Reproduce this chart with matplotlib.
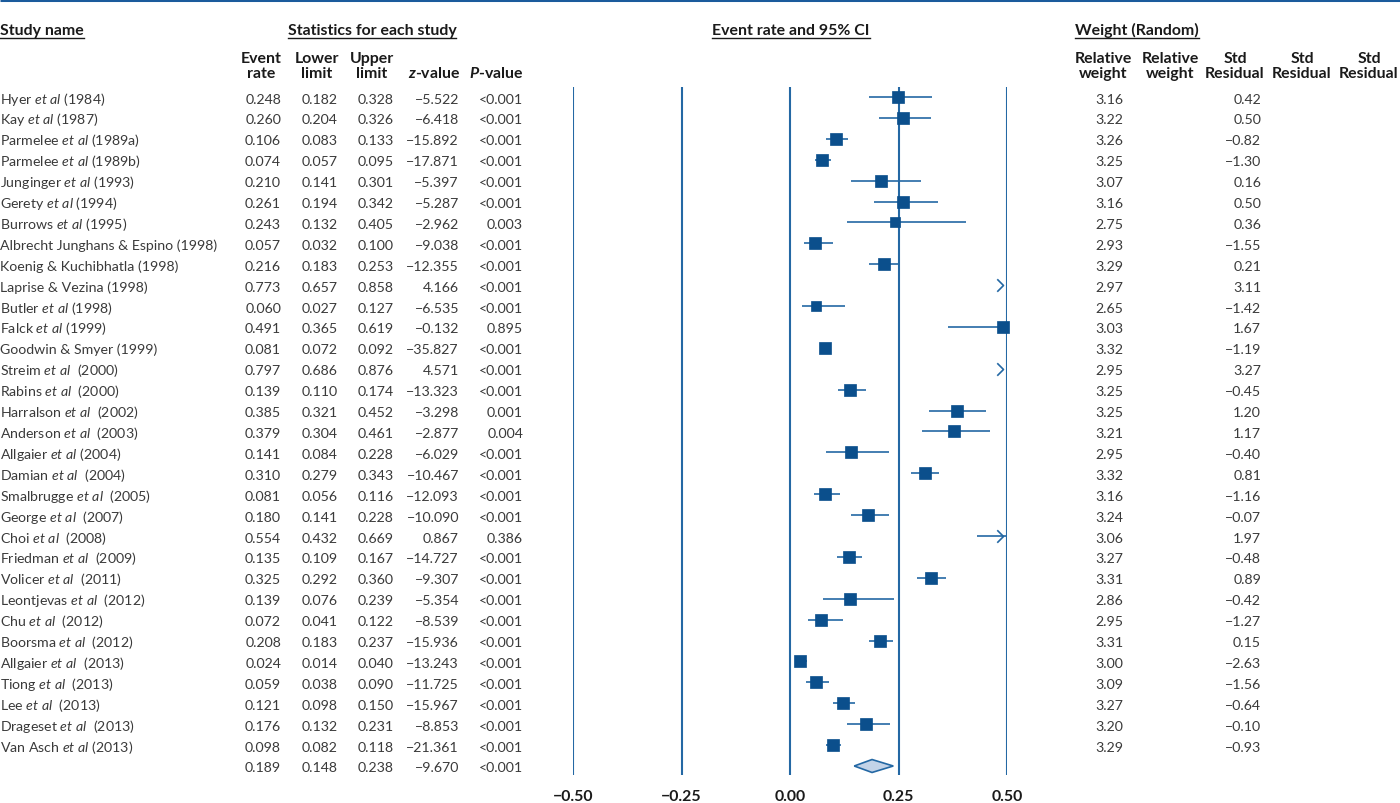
import numpy as np
import matplotlib
matplotlib.use("Agg")
import matplotlib.pyplot as plt
from matplotlib.path import Path

plt.rcParams['font.family'] = ['Lato', 'DejaVu Sans']
plt.rcParams['mathtext.fontset'] = 'custom'
plt.rcParams['mathtext.rm'] = 'Lato'
plt.rcParams['mathtext.it'] = 'Lato:italic'
plt.rcParams['mathtext.bf'] = 'Lato:bold'
try:
    plt.rcParams['mathtext.bfit'] = 'Lato:italic:bold'
except KeyError:
    pass

# data
studies = ["Hyer et al (1984)", "Kay et al (1987)", "Parmelee et al (1989a)", "Parmelee et al (1989b)",
           "Junginger et al (1993)", "Gerety et al (1994)", "Burrows et al (1995)",
           "Albrecht Junghans & Espino (1998)", "Koenig & Kuchibhatla (1998)", "Laprise & Vezina (1998)",
           "Butler et al (1998)", "Falck et al (1999)", "Goodwin & Smyer (1999)", "Streim et al  (2000)",
           "Rabins et al  (2000)", "Harralson et al  (2002)", "Anderson et al  (2003)", "Allgaier et al (2004)",
           "Damian et al  (2004)", "Smalbrugge et al  (2005)", "George et al  (2007)", "Choi et al  (2008)",
           "Friedman et al  (2009)", "Volicer et al  (2011)", "Leontjevas et al  (2012)", "Chu et al  (2012)",
           "Boorsma et al  (2012)", "Allgaier et al  (2013)", "Tiong et al  (2013)", "Lee et al  (2013)",
           "Drageset et al  (2013)", "Van Asch et al (2013)"]
event_rate = [0.248, 0.260, 0.106, 0.074, 0.210, 0.261, 0.243, 0.057, 0.216, 0.773, 0.060, 0.491, 0.081,
              0.797, 0.139, 0.385, 0.379, 0.141, 0.310, 0.081, 0.180, 0.554, 0.135, 0.325, 0.139, 0.072,
              0.208, 0.024, 0.059, 0.121, 0.176, 0.098]
lower = [0.182, 0.204, 0.083, 0.057, 0.141, 0.194, 0.132, 0.032, 0.183, 0.657, 0.027, 0.365, 0.072,
         0.686, 0.110, 0.321, 0.304, 0.084, 0.279, 0.056, 0.141, 0.432, 0.109, 0.292, 0.076, 0.041,
         0.183, 0.014, 0.038, 0.098, 0.132, 0.082]
upper = [0.328, 0.326, 0.133, 0.095, 0.301, 0.342, 0.405, 0.100, 0.253, 0.858, 0.127, 0.619, 0.092,
         0.876, 0.174, 0.452, 0.461, 0.228, 0.343, 0.116, 0.228, 0.669, 0.167, 0.360, 0.239, 0.122,
         0.237, 0.040, 0.090, 0.150, 0.231, 0.118]
z_value = [-5.522, -6.418, -15.892, -17.871, -5.397, -5.287, -2.962, -9.038, -12.355, 4.166, -6.535,
           -0.132, -35.827, 4.571, -13.323, -3.298, -2.877, -6.029, -10.467, -12.093, -10.090, 0.867,
           -14.727, -9.307, -5.354, -8.539, -15.936, -13.243, -11.725, -15.967, -8.853, -21.361]
p_value = ["<0.001", "<0.001", "<0.001", "<0.001", "<0.001", "<0.001", "0.003", "<0.001", "<0.001",
           "<0.001", "<0.001", "0.895", "<0.001", "<0.001", "<0.001", "0.001", "0.004", "<0.001",
           "<0.001", "<0.001", "<0.001", "0.386", "<0.001", "<0.001", "<0.001", "<0.001", "<0.001",
           "<0.001", "<0.001", "<0.001", "<0.001", "<0.001"]
rel_weight = [3.16, 3.22, 3.26, 3.25, 3.07, 3.16, 2.75, 2.93, 3.29, 2.97, 2.65, 3.03, 3.32, 2.95, 3.25,
              3.25, 3.21, 2.95, 3.32, 3.16, 3.24, 3.06, 3.27, 3.31, 2.86, 2.95, 3.31, 3.00, 3.09, 3.27,
              3.20, 3.29]
std_resid = [0.42, 0.50, -0.82, -1.30, 0.16, 0.50, 0.36, -1.55, 0.21, 3.11, -1.42, 1.67, -1.19, 3.27,
             -0.45, 1.20, 1.17, -0.40, 0.81, -1.16, -0.07, 1.97, -0.48, 0.89, -0.42, -1.27, 0.15, -2.63,
             -1.56, -0.64, -0.10, -0.93]
summary = [0.189, 0.148, 0.238, -9.670, "<0.001"]
ticks = [-0.50, -0.25, 0.00, 0.25, 0.50]

line_col = '#2468a4'
sq_col = '#0b4f8c'
txt_col = '#3a3a3a'
hdr_col = '#1a1a1a'

W, H = 1400, 804
fig = plt.figure(figsize=(14, 8.04), dpi=100)
tax = fig.add_axes([0, 0, 1, 1])
tax.set_xlim(0, W)
tax.set_ylim(H, 0)
tax.axis('off')

n = len(studies)
row0 = 98.0
dy = (767.0 - row0) / n
fs = 10.2
hfs = 11.4


def mfmt(v, nd):
    return f"{v:.{nd}f}".replace('-', '\u2212')


def ypix(i):
    return row0 + i * dy + 5.5


def cell(x, y, s, ha='right'):
    tax.text(x, y, s, ha=ha, va='baseline', fontsize=fs, color=txt_col)


# top rule
tax.plot([0, W], [1.2, 1.2], color='#1b5b9c', lw=2.2, solid_capstyle='butt')

# section headers
hdrs = [(0, 'Study name', 'left'), (372, 'Statistics for each study', 'center'),
        (791, 'Event rate and 95% CI', 'center'), (1075, 'Weight (Random)', 'left')]
hdr_texts = []
for x, s, ha in hdrs:
    t = tax.text(x, 35, s, ha=ha, va='baseline', fontsize=hfs, fontweight='bold', color=hdr_col)
    hdr_texts.append(t)

# column headers
col_hdrs = [(282, 'Event\nrate', 'right'), (339, 'Lower\nlimit', 'right'), (394, 'Upper\nlimit', 'right'),
            (1103, 'Relative\nweight', 'center'), (1170, 'Relative\nweight', 'center'),
            (1235, 'Std\nResidual', 'center'), (1302, 'Std\nResidual', 'center'),
            (1369, 'Std\nResidual', 'center')]
for x, s, ha in col_hdrs:
    tax.text(x, 78, s, ha=ha, va='baseline', multialignment='center', fontsize=hfs,
             fontweight='bold', color=hdr_col, linespacing=1.1)
try:
    tax.text(460, 78, r'$\mathbfit{z}$-value', ha='right', va='baseline', fontsize=hfs,
             fontweight='bold', color=hdr_col)
    tax.text(523, 78, r'$\mathbfit{P}$-value', ha='right', va='baseline', fontsize=hfs,
             fontweight='bold', color=hdr_col)
except Exception:
    pass

# table rows
for i, name in enumerate(studies):
    y = ypix(i)
    cell(0, y, name.replace('et al', r'$\mathit{et\ al}$'), ha='left')
    cell(281, y, f"{event_rate[i]:.3f}")
    cell(338, y, f"{lower[i]:.3f}")
    cell(394, y, f"{upper[i]:.3f}")
    cell(459, y, mfmt(z_value[i], 3))
    cell(523, y, p_value[i])
    cell(1123, y, f"{rel_weight[i]:.2f}")
    cell(1261, y, mfmt(std_resid[i], 2))

ys = ypix(n)
cell(281, ys, f"{summary[0]:.3f}")
cell(338, ys, f"{summary[1]:.3f}")
cell(394, ys, f"{summary[2]:.3f}")
cell(459, ys, mfmt(summary[3], 3))
cell(523, ys, summary[4])

# forest axes
top_px, bot_px = 88, 776
ax = fig.add_axes([573 / W, 1 - bot_px / H, 434 / W, (bot_px - top_px) / H])
ax.set_xlim(-0.5, 0.5)
ax.set_ylim((bot_px - row0) / dy, (top_px - row0) / dy)
ax.set_facecolor('none')
for sp in ax.spines.values():
    sp.set_visible(False)
ax.set_yticks([])
ax.set_xticks(ticks)
ax.set_xticklabels([mfmt(t, 2) for t in ticks], fontsize=hfs, fontweight='bold', color=hdr_col)
ax.tick_params(axis='x', length=0, pad=10)
for t in ticks:
    ax.axvline(t, color=line_col, lw=1.5, zorder=1)

chev = Path([(-1, 1), (0, 0), (-1, -1)], [Path.MOVETO, Path.LINETO, Path.LINETO])
xmax = ticks[-1]
for i in range(n):
    est, lo, hi = event_rate[i], lower[i], upper[i]
    if lo < xmax:
        ax.plot([lo, min(hi, xmax)], [i, i], color=line_col, lw=1.2, zorder=2,
                solid_capstyle='butt')
    if est > xmax:
        ax.plot([xmax - 0.009], [i], marker=chev, ms=9, mfc='none', mec=line_col, mew=1.2,
                clip_on=False, zorder=3)
    else:
        ax.plot([est], [i], marker='s', ms=rel_weight[i] * 3.9 * 0.72, color=sq_col,
                mec=sq_col, mew=0.5, clip_on=False, zorder=3)

# summary diamond
ax.fill([summary[1], summary[0], summary[2], summary[0]], [n, n - 0.31, n, n + 0.31],
        fc='#c3d3e8', ec=line_col, lw=1.2, zorder=3, clip_on=False)

# underline the section headers
fig.canvas.draw()
rend = fig.canvas.get_renderer()
inv = tax.transData.inverted()
for t in hdr_texts:
    bb = t.get_window_extent(rend)
    (x0, _), (x1, _) = inv.transform([(bb.x0, bb.y0), (bb.x1, bb.y0)])
    tax.plot([x0, x1], [38.5, 38.5], color=hdr_col, lw=1.0)

fig.savefig('out.png', dpi=100)
